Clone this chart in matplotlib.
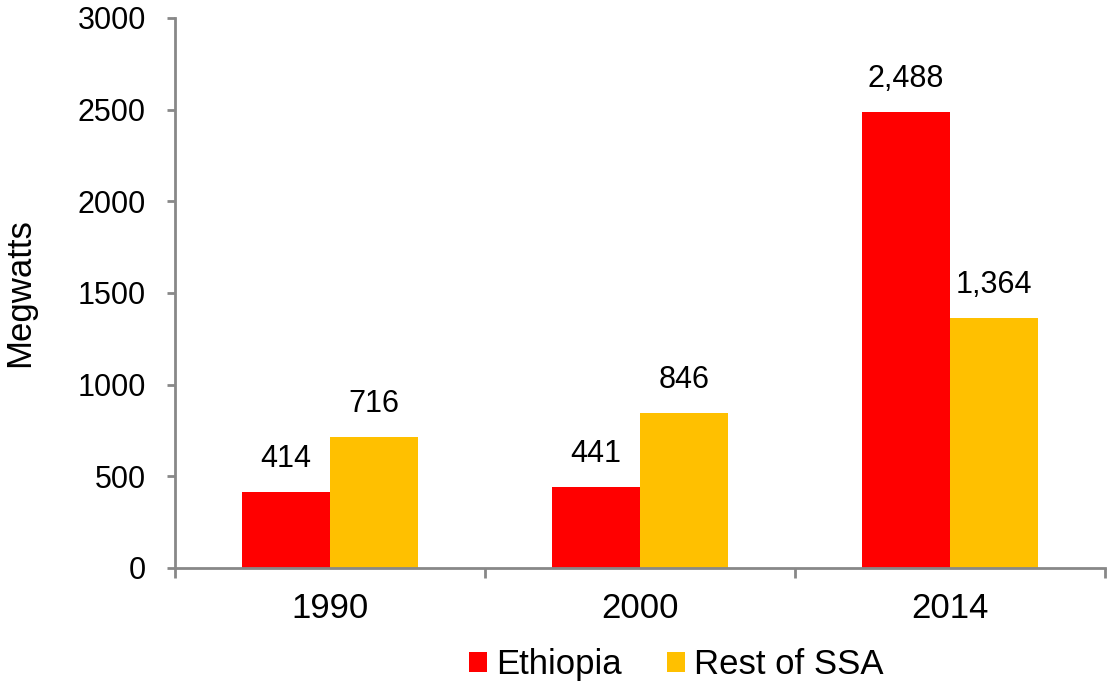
import numpy as np
import matplotlib.pyplot as plt

plt.rcParams['font.family'] = ['Liberation Sans', 'DejaVu Sans']

# data
years = ["1990", "2000", "2014"]
ethiopia = [414, 441, 2488]
rest_ssa = [716, 846, 1364]

fig = plt.figure(figsize=(11.1, 6.84), dpi=100)
ax = fig.add_axes([0.1577, 0.1696, 0.8378, 0.8041])

x = np.arange(len(years))
w = 0.284
b1 = ax.bar(x - w / 2, ethiopia, w, color="#FF0000", label="Ethiopia")
b2 = ax.bar(x + w / 2, rest_ssa, w, color="#FFC000", label="Rest of SSA")

for bars, vals in ((b1, ethiopia), (b2, rest_ssa)):
    for rect, v in zip(bars, vals):
        ax.annotate(f"{v:,}", (rect.get_x() + rect.get_width() / 2, v),
                    xytext=(0, 13), textcoords="offset points",
                    ha="center", va="bottom", fontsize=22)

ax.set_xlim(-0.5, 2.5)
ax.set_ylim(0, 3000)
ax.set_yticks(np.arange(0, 3001, 500))
ax.tick_params(axis="y", labelsize=22, length=6, width=2, color="#888888", pad=15)
ax.set_xticks(x)
ax.set_xticklabels(years)
ax.set_xticks([-0.5, 0.5, 1.5, 2.5], minor=True)
ax.tick_params(axis="x", which="major", length=0, labelsize=25, pad=17)
ax.tick_params(axis="x", which="minor", length=7, width=2, color="#888888")

for s in ("top", "right"):
    ax.spines[s].set_visible(False)
for s in ("left", "bottom"):
    ax.spines[s].set_color("#888888")
    ax.spines[s].set_linewidth(2)

ax.set_ylabel("Megwatts", fontsize=25, labelpad=30)

ax.legend(loc="center", bbox_to_anchor=(0.539, -0.176), ncol=2, frameon=False,
          fontsize=25, handlelength=0.52, handleheight=0.52, handletextpad=0.26,
          columnspacing=1.3, borderpad=0.1)

fig.savefig("out.png", dpi=100)
